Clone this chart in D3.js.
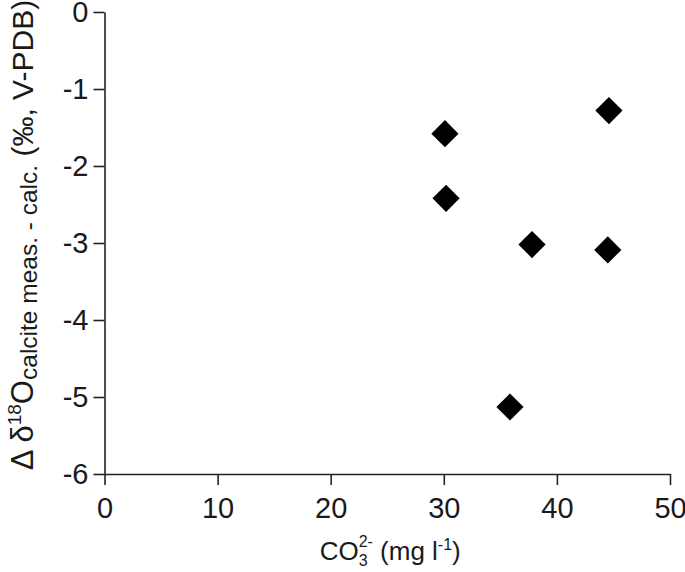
<!DOCTYPE html>
<head>
  <meta charset="utf-8">
  <script src="https://d3js.org/d3.v7.min.js"></script>
  <style>
    body { margin:0; background:#fff; }
    text { font-family: "Liberation Sans", Arial, sans-serif; fill:#1a1a1a; }
  </style>
</head>
<body>
<script>
  // data
  var co3 = [30.1, 30.2, 37.8, 35.85, 44.6, 44.5];
  var deltaO = [-1.58, -2.42, -3.02, -5.13, -1.28, -3.09];
  var xTicks = [0, 10, 20, 30, 40, 50];
  var yTicks = [0, -1, -2, -3, -4, -5, -6];

  var margin = {top: 12, right: 15, bottom: 98, left: 104.5},
      width = 685 - margin.left - margin.right,
      height = 572 - margin.top - margin.bottom;

  var svg = d3.select("body").append("svg")
    .attr("width", 685)
    .attr("height", 572)
    .append("g")
    .attr("transform", "translate(" + margin.left + "," + margin.top + ")");

  var x = d3.scaleLinear().domain([0, 50]).range([0, 565.5]);
  var y = d3.scaleLinear().domain([-6, 0]).range([height, 0]);

  var fmt = function(d) { return String(d); };

  // x axis
  var xAxis = svg.append("g")
    .attr("transform", "translate(0," + height + ")")
    .call(d3.axisBottom(x).tickValues(xTicks).tickFormat(fmt)
      .tickSize(11).tickPadding(12).tickSizeOuter(0));

  // y axis
  var yAxis = svg.append("g")
    .call(d3.axisLeft(y).tickValues(yTicks).tickFormat(fmt)
      .tickSize(11).tickPadding(5).tickSizeOuter(0));

  [xAxis, yAxis].forEach(function(a) {
    a.selectAll("path, line").attr("stroke", "#222").attr("stroke-width", 1.6);
    a.selectAll("text").style("font-size", "29px").attr("fill", "#1a1a1a");
  });

  // data points
  var pts = co3.map(function(d, i) { return {x: d, y: deltaO[i]}; });
  svg.selectAll(".pt").data(pts).enter()
    .append("path")
    .attr("class", "pt")
    .attr("d", d3.symbol().type(d3.symbolSquare).size(370))
    .attr("transform", function(d) { return "translate(" + x(d.x) + "," + y(d.y) + ") rotate(45)"; })
    .attr("fill", "#000");

  // x axis title
  var xt = svg.append("text")
    .attr("x", x(25) + 3)
    .attr("y", height + 86)
    .attr("text-anchor", "middle")
    .style("font-size", "26px");
  xt.append("tspan").text("CO");
  xt.append("tspan").text("3").style("font-size", "16px").attr("dy", 6);
  xt.append("tspan").text("2-").style("font-size", "16px").attr("dy", -19).attr("dx", -9);
  xt.append("tspan").text(" (mg l").style("font-size", "26px").attr("dy", 13);
  xt.append("tspan").text("-1").style("font-size", "16px").attr("dy", -10);
  xt.append("tspan").text(")").style("font-size", "26px").attr("dy", 10);

  // y axis title
  var yt = svg.append("text")
    .attr("transform", "rotate(-90)")
    .attr("x", -height / 2 + 8)
    .attr("y", -margin.left + 33)
    .attr("text-anchor", "middle")
    .style("font-size", "31px");
  yt.append("tspan").text("\u0394 \u03b4");
  yt.append("tspan").text("18").style("font-size", "19px").attr("dy", -12);
  yt.append("tspan").text("O").style("font-size", "31px").attr("dy", 12);
  yt.append("tspan").text("calcite meas. - calc.").style("font-size", "24.5px").attr("dy", 4);
  yt.append("tspan").text(" (\u2030, V-PDB)").style("font-size", "30px").attr("dy", -4);
</script>
</body>
